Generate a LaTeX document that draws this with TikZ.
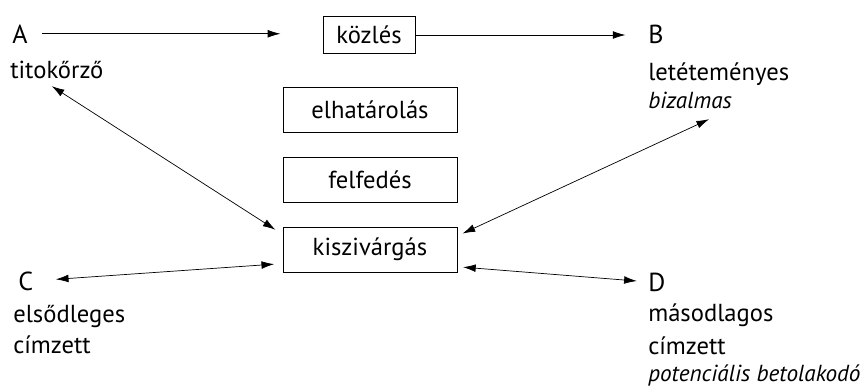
\documentclass[tikz,border=0pt]{standalone}
\usepackage{fontspec}
\setmainfont{PT Sans}
\usetikzlibrary{arrows.meta, positioning}

\begin{document}
\begin{tikzpicture}[
  x=0.025cm, y=-0.025cm,
  node distance=0.6cm,
  doboz/.style={rectangle, draw, line width=0.6pt, minimum width=4.35cm, minimum height=1.125cm,
               inner sep=0pt, font=\fontsize{17.5}{20}\selectfont},
  betu/.style={inner sep=0pt, anchor=base west, font=\fontsize{18.5}{20}\selectfont},
  szoveg/.style={inner sep=0pt, anchor=base west, font=\fontsize{17.5}{20}\selectfont},
  dolt/.style={inner sep=0pt, anchor=base west, font=\fontsize{16.5}{18}\selectfont\itshape},
  nyil/.style={-{Latex[length=9pt,width=5.5pt]}, line width=0.5pt},
  kettos/.style={{Latex[length=9pt,width=5.5pt]}-{Latex[length=9pt,width=5.5pt]}, line width=0.5pt}
]
\useasboundingbox (0,0) rectangle (863,390);

% a kozepso dobozok
\node[doboz, minimum width=2.3cm, minimum height=0.925cm] (kozles) at (369,35) {közlés};
\node[doboz] (elhat) at (370,110) {elhatárolás};
\node[doboz, below=of elhat] (felf) {felfedés};
\node[doboz, below=of felf] (kisz) {kiszivárgás};

% a szereplok
\node[betu]   (A)     at (12,43)   {A};
\node[szoveg] (titok) at (10,78)   {titokőrző};
\node[betu]   (B)     at (648,43)  {B};
\node[szoveg] (letet) at (648,80)  {letéteményes};
\node[dolt]   (biz)   at (648,108) {bizalmas};
\node[betu]   (C)     at (18,290)  {C};
\node[szoveg] (elso)  at (13,322)  {elsődleges};
\node[szoveg] (cimC)  at (13,353)  {címzett};
\node[betu]   (D)     at (648,291) {D};
\node[szoveg] (masod) at (648,321) {másodlagos};
\node[szoveg] (cimD)  at (648,354) {címzett};
\node[dolt]   (pot)   at (648,381) {potenciális betolakodó};

\draw[nyil, shorten <=10pt, shorten >=30pt] (A.east) -- (A.east -| kozles.west);
\draw[nyil, shorten >=16pt] (kozles.east) -- (kozles.east -| B.west);
\draw[kettos, shorten <=10pt, shorten >=6pt] ([xshift=-12pt]titok.south) -- (kisz.170);
\draw[kettos, shorten <=16pt, shorten >=6pt] (C.east) -- (kisz.189);
\draw[kettos, shorten <=4pt, shorten >=18pt] (kisz.9) -- (biz.south east);
\draw[kettos, shorten <=4pt, shorten >=8pt] (kisz.-11) -- (D.west);
\end{tikzpicture}
\end{document}
